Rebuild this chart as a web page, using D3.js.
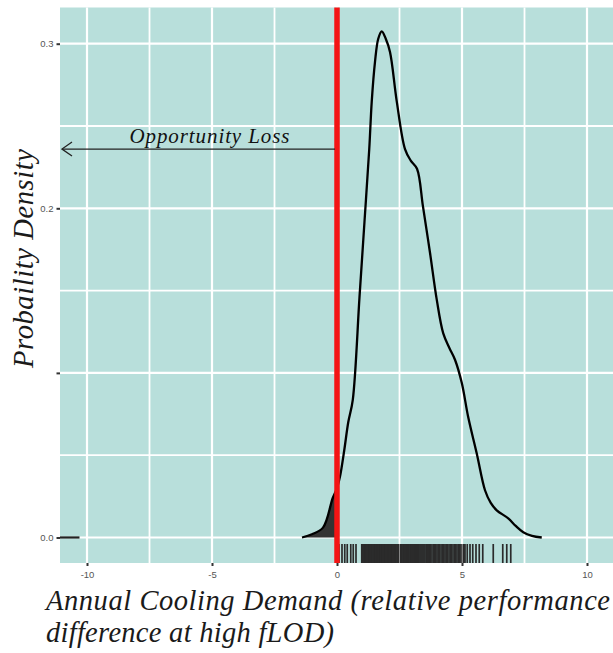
<!DOCTYPE html>
<html>
<head>
<meta charset="utf-8">
<script src="https://cdn.jsdelivr.net/npm/d3@7"></script>
<style>
  body { margin: 0; background: #fff; }
  svg { display: block; }
</style>
</head>
<body>
<div id="chart"></div>
<script>
// Dichtekurve
const densityX = [-1.4, -1.0, -0.56, -0.17, 0, 0.12, 0.29, 0.45, 0.63, 0.9, 1.1, 1.29, 1.39, 1.52, 1.65, 1.79, 1.95, 2.12, 2.39, 2.72, 2.95, 3.2, 3.44, 3.72, 3.99, 4.25, 4.5, 4.72, 4.99, 5.25, 5.59, 5.92, 6.15, 6.39, 6.85, 7.15, 7.45, 7.8, 8.19]
const densityY = [0, 0.002, 0.006, 0.024, 0.03, 0.037, 0.053, 0.07, 0.0835, 0.146, 0.192, 0.236, 0.265, 0.289, 0.303, 0.3075, 0.303, 0.295, 0.265, 0.236, 0.229, 0.224, 0.201, 0.173, 0.1445, 0.124, 0.115, 0.108, 0.094, 0.073, 0.051, 0.0287, 0.021, 0.0165, 0.0116, 0.007, 0.0032, 0.001, 0]

// Rug-Werte
const rugValues = [0.08, 0.2, 0.31, 0.41, 0.55, 0.65, 0.76,
  0.99, 1.03, 1.06, 1.1, 1.13, 1.15, 1.19, 1.22, 1.26, 1.28, 1.31, 1.35, 1.38, 1.4, 1.44, 1.47, 1.5, 1.53, 1.55, 1.58,
  1.61, 1.64, 1.66, 1.7, 1.73, 1.75, 1.78, 1.81, 1.83, 1.86, 1.9, 1.93, 1.95, 1.98, 2.02, 2.05, 2.08, 2.1, 2.14, 2.17,
  2.2, 2.23, 2.26, 2.3, 2.33, 2.36, 2.4, 2.43, 2.46, 2.54, 2.57, 2.6, 2.64, 2.67, 2.71, 2.74, 2.78, 2.81, 2.85, 2.88,
  2.92, 2.95, 2.99, 3.02, 3.06, 3.1, 3.13, 3.17, 3.21, 3.25, 3.28, 3.32, 3.36, 3.4, 3.44, 3.48, 3.52, 3.57, 3.61, 3.66,
  3.7, 3.75, 3.8, 3.86, 3.9, 3.95, 4.0, 4.05, 4.1, 4.16, 4.21, 4.27, 4.32, 4.37, 4.42, 4.48, 4.53, 4.58, 4.64, 4.7,
  4.75, 4.8, 4.86, 4.91, 4.96, 5.05, 5.08, 5.12, 5.21, 5.32, 5.43, 5.56, 5.69, 5.83, 6.25, 6.63, 6.79, 6.95]

// Achsen-Ticks
const xTicks = [-10, -5, 0, 5, 10]
const xTickLabels = ["-10", "-5", "0", "5", "10"]
const xMinor = [-7.5, -2.5, 2.5, 7.5]
const yTicks = [0, 0.1, 0.2, 0.3]
const yTickLabels = ["0.0", "", "0.2", "0.3"]
const yMinor = [0.05, 0.15, 0.25]

// kurzer Strich links bei y = 0
const stubX = [-11.08, -10.3]
const lossX = [0, -11.0]
const lossY = 0.236

const W = 613, H = 653
const panel = { left: 60, right: 613, top: 7.5, bottom: 563 }

const svg = d3.select("#chart").append("svg")
  .attr("width", W)
  .attr("height", H)

const x = d3.scaleLinear().domain([-11.08, 11.04]).range([panel.left, panel.right])
const y = d3.scaleLinear().domain([-0.0155, 0.322]).range([panel.bottom, panel.top])

// Hintergrund
svg.append("rect")
  .attr("x", panel.left).attr("y", panel.top)
  .attr("width", panel.right - panel.left)
  .attr("height", panel.bottom - panel.top)
  .attr("fill", "#b8dfdb")

const grid = svg.append("g").attr("stroke", "#fff")
grid.selectAll(".vminor").data(xMinor).enter().append("line")
  .attr("x1", d => x(d)).attr("x2", d => x(d))
  .attr("y1", panel.top).attr("y2", panel.bottom)
  .attr("stroke-width", 1.8)
grid.selectAll(".vmajor").data(xTicks).enter().append("line")
  .attr("x1", d => x(d)).attr("x2", d => x(d))
  .attr("y1", panel.top).attr("y2", panel.bottom)
  .attr("stroke-width", 2.2)
grid.selectAll(".hminor").data(yMinor).enter().append("line")
  .attr("y1", d => y(d)).attr("y2", d => y(d))
  .attr("x1", panel.left).attr("x2", panel.right)
  .attr("stroke-width", 1.8)
grid.selectAll(".hmajor").data(yTicks).enter().append("line")
  .attr("y1", d => y(d)).attr("y2", d => y(d))
  .attr("x1", panel.left).attr("x2", panel.right)
  .attr("stroke-width", 2.2)

// Dichte
const pts = densityX.map((d, i) => [d, densityY[i]])

const area = d3.area()
  .x(d => x(d[0])).y0(y(0)).y1(d => y(d[1]))
  .curve(d3.curveCatmullRom)
svg.append("path")
  .datum(pts.filter(d => d[0] <= 0))
  .attr("d", area)
  .attr("fill", "#333")

const line = d3.line()
  .x(d => x(d[0])).y(d => y(d[1]))
  .curve(d3.curveCatmullRom)
svg.append("path")
  .datum(pts)
  .attr("d", line)
  .attr("fill", "none")
  .attr("stroke", "#000")
  .attr("stroke-width", 2.3)

svg.append("line")
  .attr("x1", x(stubX[0])).attr("x2", x(stubX[1]))
  .attr("y1", y(0)).attr("y2", y(0))
  .attr("stroke", "#222").attr("stroke-width", 2.2)

// Rug
svg.append("g").selectAll("line")
  .data(rugValues).enter().append("line")
  .attr("x1", d => x(d)).attr("x2", d => x(d))
  .attr("y1", panel.bottom - 19).attr("y2", panel.bottom)
  .attr("stroke", "#2b2b2b")
  .attr("stroke-width", 1.7)

// rote Linie bei 0
svg.append("line")
  .attr("x1", x(0)).attr("x2", x(0))
  .attr("y1", panel.top).attr("y2", panel.bottom)
  .attr("stroke", "#f41414")
  .attr("stroke-width", 5.5)

// Pfeil "Opportunity Loss"
svg.append("defs").append("marker")
  .attr("id", "head")
  .attr("viewBox", "0 0 12 16")
  .attr("refX", 11).attr("refY", 8)
  .attr("markerWidth", 12).attr("markerHeight", 16)
  .attr("markerUnits", "userSpaceOnUse")
  .attr("orient", "auto")
  .append("path")
  .attr("d", "M1,1 L11,8 L1,15")
  .attr("fill", "none")
  .attr("stroke", "#222")
  .attr("stroke-width", 1.3)

svg.append("line")
  .attr("x1", x(lossX[0]) - 2).attr("x2", x(lossX[1]))
  .attr("y1", y(lossY)).attr("y2", y(lossY))
  .attr("stroke", "#222").attr("stroke-width", 1.2)
  .attr("marker-end", "url(#head)")

svg.append("text")
  .attr("x", 129.5).attr("y", y(lossY) - 6.5)
  .attr("textLength", 160)
  .style("font-family", "'Liberation Serif', serif")
  .style("font-style", "italic")
  .style("font-size", "21px")
  .attr("fill", "#111")
  .text("Opportunity Loss")

// Achsen
const xAxis = d3.axisBottom(x)
  .tickValues(xTicks)
  .tickFormat((d, i) => xTickLabels[i])
  .tickSize(3)
  .tickPadding(5)

const yAxis = d3.axisLeft(y)
  .tickValues(yTicks)
  .tickFormat((d, i) => yTickLabels[i])
  .tickSize(3.5)
  .tickPadding(3)

svg.append("g")
  .attr("class", "x axis")
  .attr("transform", "translate(0," + panel.bottom + ")")
  .style("font-size", "9.5px")
  .style("font-family", "'Liberation Sans', Arial, sans-serif")
  .call(xAxis)
  .call(g => g.select(".domain").remove())
  .call(g => g.selectAll(".tick line").attr("stroke", "#333").attr("stroke-width", 2))
  .call(g => g.selectAll(".tick text").attr("fill", "#555"))

svg.append("g")
  .attr("class", "y axis")
  .attr("transform", "translate(" + panel.left + ",0)")
  .style("font-size", "9.5px")
  .style("font-family", "'Liberation Sans', Arial, sans-serif")
  .call(yAxis)
  .call(g => g.select(".domain").remove())
  .call(g => g.selectAll(".tick line").attr("stroke", "#333").attr("stroke-width", 2))
  .call(g => g.selectAll(".tick text").attr("fill", "#555"))

// Achsentitel
const titleStyle = sel => sel
  .style("font-family", "'Liberation Serif', serif")
  .style("font-style", "italic")
  .style("font-size", "28.5px")
  .attr("fill", "#1a1a1a")

svg.append("text")
  .attr("x", 46).attr("y", 610)
  .attr("textLength", 564)
  .call(titleStyle)
  .text("Annual Cooling Demand (relative performance")

svg.append("text")
  .attr("x", 46).attr("y", 642)
  .attr("textLength", 288)
  .call(titleStyle)
  .text("difference at high fLOD)")

svg.append("text")
  .attr("transform", "translate(33,368) rotate(-90)")
  .attr("textLength", 219)
  .call(titleStyle)
  .text("Probaility Density")
</script>
</body>
</html>
